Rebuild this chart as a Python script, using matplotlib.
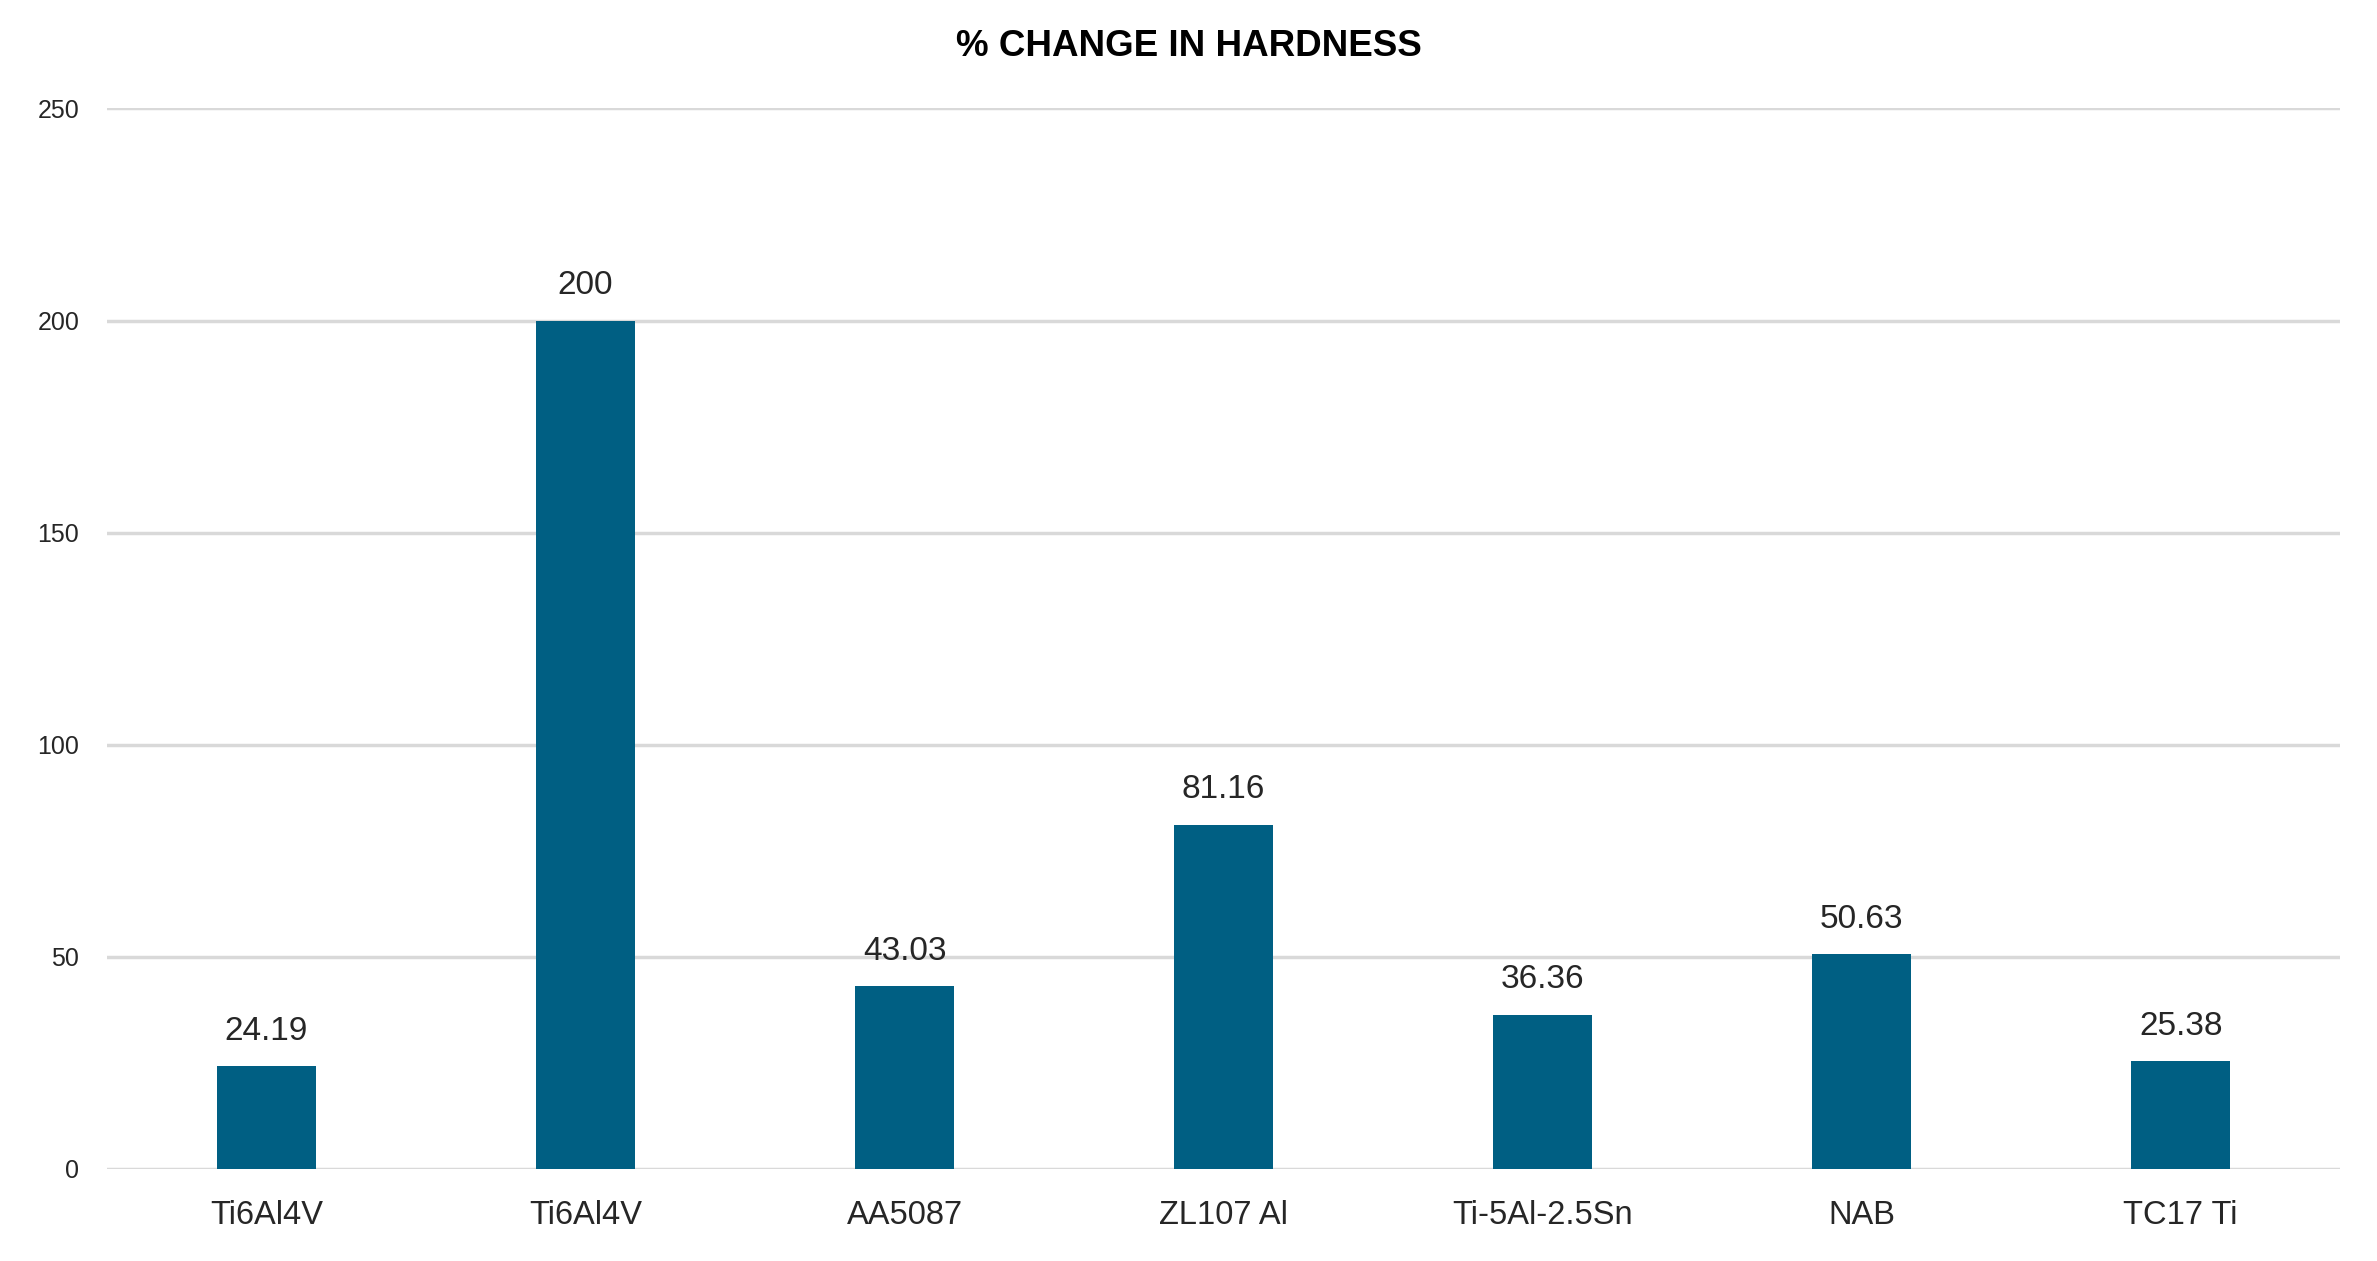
import matplotlib
matplotlib.use("Agg")
import matplotlib.pyplot as plt

categories = ["Ti6Al4V", "Ti6Al4V", "AA5087", "ZL107 Al", "Ti-5Al-2.5Sn", "NAB", "TC17 Ti"]
values = [24.19, 200, 43.03, 81.16, 36.36, 50.63, 25.38]
value_labels = ["24.19", "200", "43.03", "81.16", "36.36", "50.63", "25.38"]
yticks = [0, 50, 100, 150, 200, 250]

plt.rcParams['font.family'] = ['Liberation Sans', 'DejaVu Sans']

fig = plt.figure(figsize=(23.77, 12.61), dpi=100)
ax = fig.add_axes([0.045, 0.073, 0.9395, 0.841])

x = list(range(len(categories)))
bars = ax.bar(x, values, width=0.31, color="#005f83", zorder=3)
for b, lab in zip(bars, value_labels):
    ax.annotate(lab, (b.get_x() + b.get_width() / 2, b.get_height()),
                xytext=(0, 14), textcoords="offset points",
                ha="center", va="bottom", fontsize=24, color="#262626")

ax.set_xlim(-0.5, len(categories) - 0.5)
ax.set_ylim(0, 250)
ax.set_yticks(yticks)
ax.set_yticklabels([str(t) for t in yticks], fontsize=18, color="#262626")
ax.set_xticks(x)
ax.set_xticklabels(categories, fontsize=23.5, color="#262626")
ax.tick_params(axis="both", length=0)
ax.tick_params(axis="x", pad=22)
ax.tick_params(axis="y", pad=20)
ax.grid(axis="y", color="#d9d9d9", linewidth=2.5, zorder=0)
ax.set_axisbelow(True)
for s in ax.spines.values():
    s.set_visible(False)

fig.text(0.5, 0.963, "% CHANGE IN HARDNESS", ha="center", va="center",
         fontsize=26.5, fontweight="bold", color="#000000")

fig.savefig("out.png", dpi=100, facecolor="white")
